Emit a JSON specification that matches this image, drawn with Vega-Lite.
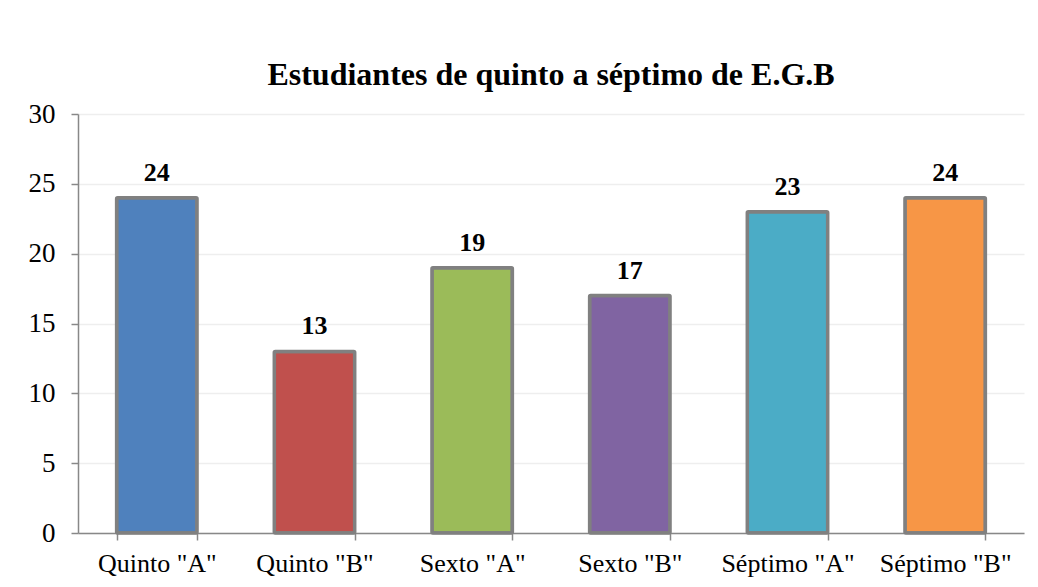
{
  "$schema": "https://vega.github.io/schema/vega-lite/v6.json",
  "width": 946,
  "height": 419,
  "autosize": {"type": "none"},
  "padding": {"left": 78, "top": 114, "right": 14, "bottom": 54},
  "background": "white",
  "title": {
    "text": "Estudiantes de quinto a séptimo de E.G.B",
    "font": "Liberation Serif",
    "fontSize": 32,
    "fontWeight": "bold",
    "color": "#000000",
    "anchor": "middle",
    "offset": 8
  },
  "data": {
    "values": [
      {"grupo": "Quinto \"A\"", "estudiantes": 24},
      {"grupo": "Quinto \"B\"", "estudiantes": 13},
      {"grupo": "Sexto \"A\"", "estudiantes": 19},
      {"grupo": "Sexto \"B\"", "estudiantes": 17},
      {"grupo": "Séptimo \"A\"", "estudiantes": 23},
      {"grupo": "Séptimo \"B\"", "estudiantes": 24}
    ]
  },
  "config": {
    "view": {"stroke": null},
    "font": "Liberation Serif"
  },
  "encoding": {
    "x": {
      "field": "grupo",
      "type": "nominal",
      "sort": null,
      "scale": {"paddingInner": 0.49, "paddingOuter": 0.245},
      "axis": {
        "title": null,
        "labelAngle": 0,
        "labelFont": "Liberation Serif",
        "labelFontSize": 26,
        "labelColor": "#000000",
        "labelPadding": 10,
        "domainColor": "#888888",
        "domainWidth": 1.5,
        "tickBand": "extent",
        "tickColor": "#888888",
        "tickSize": 7,
        "tickWidth": 1.5,
        "grid": false
      }
    },
    "y": {
      "field": "estudiantes",
      "type": "quantitative",
      "scale": {"domain": [0, 30]},
      "axis": {
        "title": null,
        "values": [0, 5, 10, 15, 20, 25, 30],
        "labelFont": "Liberation Serif",
        "labelFontSize": 27,
        "labelColor": "#000000",
        "labelPadding": 16,
        "domainColor": "#888888",
        "domainWidth": 1.5,
        "tickColor": "#888888",
        "tickSize": 7,
        "tickWidth": 1.5,
        "grid": true,
        "gridColor": "#eeeeee",
        "gridWidth": 1.5
      }
    }
  },
  "layer": [
    {
      "mark": {"type": "bar", "stroke": "#808080", "strokeWidth": 3.5, "cornerRadius": 1},
      "encoding": {
        "color": {
          "field": "grupo",
          "type": "nominal",
          "sort": null,
          "legend": null,
          "scale": {
            "domain": ["Quinto \"A\"", "Quinto \"B\"", "Sexto \"A\"", "Sexto \"B\"", "Séptimo \"A\"", "Séptimo \"B\""],
            "range": ["#4F81BD", "#C0504D", "#9BBB59", "#8064A2", "#4BACC6", "#F79646"]
          }
        }
      }
    },
    {
      "mark": {
        "type": "text",
        "dy": -17,
        "baseline": "alphabetic",
        "font": "Liberation Serif",
        "fontSize": 26,
        "fontWeight": "bold",
        "color": "#000000"
      },
      "encoding": {
        "text": {"field": "estudiantes", "type": "quantitative"}
      }
    }
  ]
}
